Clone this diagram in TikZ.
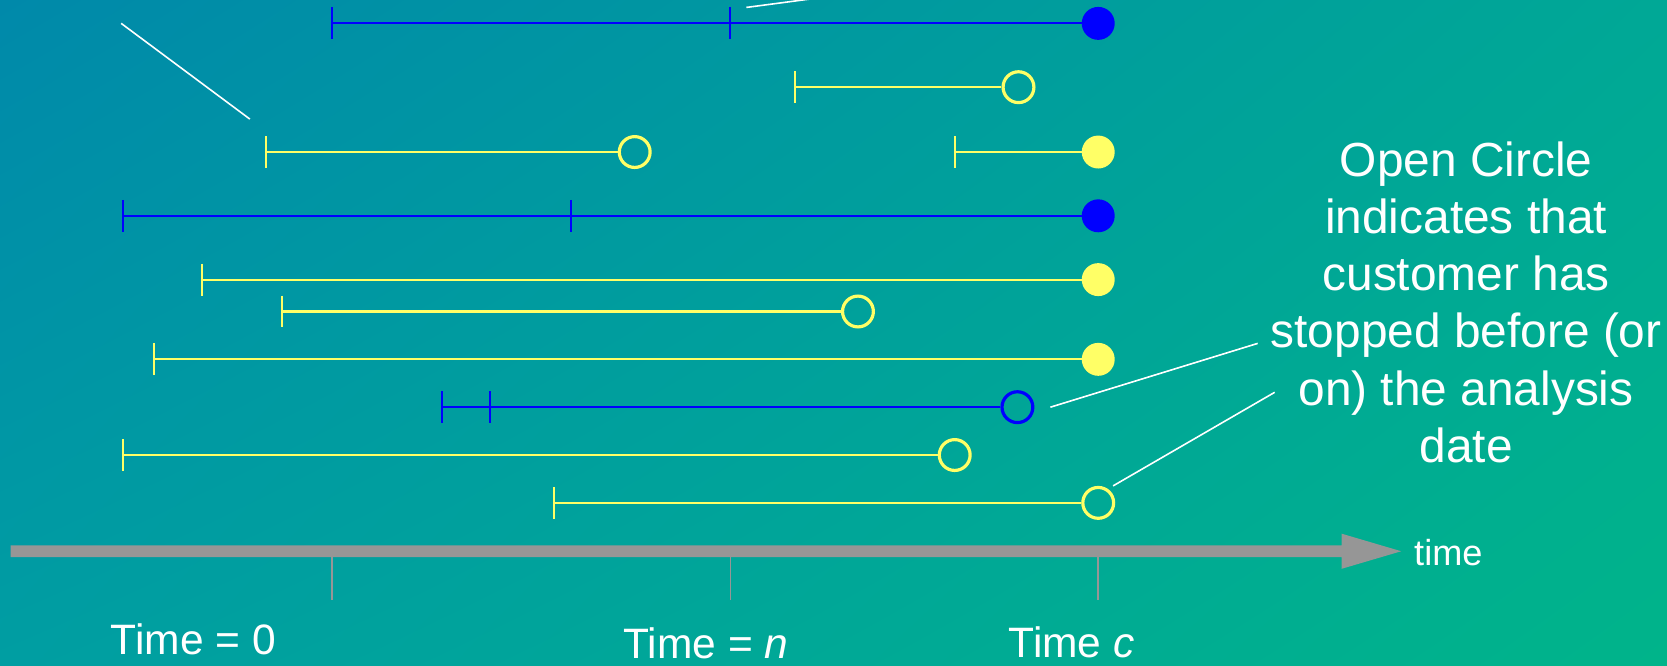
\documentclass[tikz,border=0pt]{standalone}
\usepackage{fontspec}
\usetikzlibrary{shadings}
\newfontfamily\rfont{Liberation Sans}
\newfontfamily\tfont{Liberation Sans}
\definecolor{cyel}{RGB}{255,255,102}
\definecolor{cblu}{RGB}{0,0,255}
\definecolor{cgry}{RGB}{150,150,150}
\definecolor{bgtl}{RGB}{0,137,170}
\definecolor{bgtr}{RGB}{0,168,150}
\definecolor{bgbl}{RGB}{0,158,162}
\definecolor{bgbr}{RGB}{0,180,138}
\newcommand\startmark[2]{\draw[seg,#1] ([yshift=15pt]#2) -- ([yshift=-15pt]#2);}
\begin{document}
\begin{tikzpicture}[x=1pt,y=-1pt,
  seg/.style={line width=2pt},
  dotf/.style={circle,inner sep=0pt,minimum size=31pt,fill=#1},
  doto/.style={circle,inner sep=0pt,minimum size=29pt,draw=#1,line width=3pt},
  leader/.style={white,line width=1.5pt},
  axtick/.style={cgry,line width=1.5pt},
  lab/.style={text=white,inner sep=0pt}]
\useasboundingbox (0,0) rectangle (1568,626);
\shade[upper left=bgtl,upper right=bgtr,lower left=bgbl,lower right=bgbr] (0,0) rectangle (1568,626);

% Row A (blue)
\coordinate (sA) at (312,22);
\coordinate (mA) at (687,22);
\node[dotf=cblu] (eA) at (1033,22) {};
\draw[seg,cblu] (sA) -- (eA);
\startmark{cblu}{sA}
\startmark{cblu}{mA}
% Row B (yellow)
\coordinate (sB) at (748,82);
\node[doto=cyel] (eB) at (958,82) {};
\draw[seg,cyel] (sB) -- (eB);
\startmark{cyel}{sB}
% Row C (yellow, two)
\coordinate (sC) at (250,143);
\node[doto=cyel] (eC) at (597,143) {};
\draw[seg,cyel] (sC) -- (eC);
\startmark{cyel}{sC}
\coordinate (sC2) at (898,143);
\node[dotf=cyel] (eC2) at (1033,143) {};
\draw[seg,cyel] (sC2) -- (eC2);
\startmark{cyel}{sC2}
% Row D (blue)
\coordinate (sD) at (116,203);
\coordinate (mD) at (537,203);
\node[dotf=cblu] (eD) at (1033,203) {};
\draw[seg,cblu] (sD) -- (eD);
\startmark{cblu}{sD}
\startmark{cblu}{mD}
% Row E
\coordinate (sE) at (190,263);
\node[dotf=cyel] (eE) at (1033,263) {};
\draw[seg,cyel] (sE) -- (eE);
\startmark{cyel}{sE}
% Row F
\coordinate (sF) at (265,293);
\node[doto=cyel] (eF) at (807,293) {};
\draw[seg,cyel] (sF) -- (eF);
\startmark{cyel}{sF}
% Row G
\coordinate (sG) at (145,338);
\node[dotf=cyel] (eG) at (1033,338) {};
\draw[seg,cyel] (sG) -- (eG);
\startmark{cyel}{sG}
% Row H (blue)
\coordinate (sH) at (416,383);
\coordinate (mH) at (461,383);
\node[doto=cblu] (eH) at (957,383) {};
\draw[seg,cblu] (sH) -- (eH);
\startmark{cblu}{sH}
\startmark{cblu}{mH}
% Row I
\coordinate (sI) at (116,428);
\node[doto=cyel] (eI) at (898,428) {};
\draw[seg,cyel] (sI) -- (eI);
\startmark{cyel}{sI}
% Row J
\coordinate (sJ) at (521,473);
\node[doto=cyel] (eJ) at (1033,473) {};
\draw[seg,cyel] (sJ) -- (eJ);
\startmark{cyel}{sJ}

% time axis
\fill[cgry] (10,513) -- (1262,513) -- (1262,502) -- (1318,518.5) -- (1262,535) -- (1262,524) -- (10,524) -- cycle;
\draw[axtick] (312,524) -- (312,564);
\draw[axtick] (687,524) -- (687,564);
\draw[axtick] (1033,524) -- (1033,564);

% labels
\node[lab,anchor=base,font=\tfont\fontsize{40}{46}\selectfont] (t0) at (182,616) {Time = 0};
\node[lab,anchor=base,font=\tfont\fontsize{40}{46}\selectfont] (tn) at (664,619.5) {Time = {\itshape n}};
\node[lab,anchor=base,font=\tfont\fontsize{40}{46}\selectfont] (tc) at (1008,618.5) {Time {\itshape c}};
\node[lab,anchor=base west,font=\tfont\fontsize{34}{40}\selectfont] (tm) at (1330,531.5) {time};
\node[lab,anchor=north,align=center,font=\rfont\fontsize{45}{53.7}\selectfont] (note) at (1379,128)
  {\rule{0pt}{38pt}Open Circle\\indicates that\\customer has\\stopped before (or\\on) the analysis\\date};

% leader lines
\coordinate (lA1) at (114,22);  \coordinate (lA2) at (235,112);
\draw[leader] (lA1) -- (lA2);
\coordinate (lB1) at (702,7);   \coordinate (lB2) at (780,-3.3);
\draw[leader] (lB1) -- (lB2);
\coordinate (lC1) at (988,383); \coordinate (lC2) at (1183,323);
\draw[leader] (lC1) -- (lC2);
\coordinate (lD1) at (1047,457); \coordinate (lD2) at (1199,369);
\draw[leader] (lD1) -- (lD2);
\end{tikzpicture}
\end{document}
